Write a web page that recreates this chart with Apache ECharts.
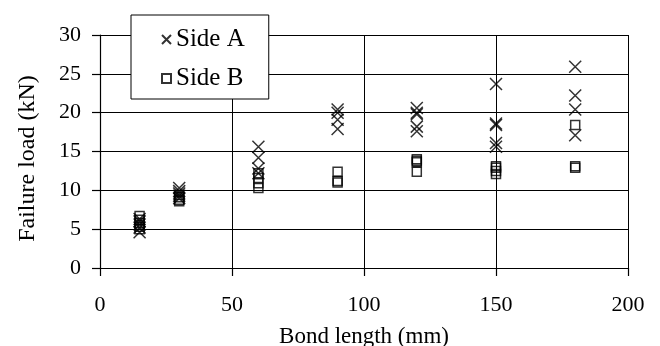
<!DOCTYPE html>
<html>
<head>
<meta charset="utf-8">
<script src="https://cdn.jsdelivr.net/npm/echarts@6/dist/echarts.min.js"></script>
<style>
  html, body { margin: 0; padding: 0; background: #fff; }
  #chart { width: 660px; height: 346px; }
</style>
</head>
<body>
<div id="chart"></div>
<script>
// Bond lengths tested (mm)
const bondLength = [15, 30, 60, 90, 120, 150, 180];

// Failure loads (kN) per bond length, side A specimens
const sideA = [
  [4.6, 5.2, 5.6, 6.0, 6.3],
  [9.0, 9.3, 9.6, 9.9, 10.3],
  [12.2, 12.8, 14.2, 15.6],
  [17.9, 19.1, 20.0, 20.4],
  [17.6, 18.2, 19.8, 20.0, 20.6],
  [15.6, 16.1, 18.4, 18.6, 23.7],
  [17.1, 20.4, 22.2, 25.9]
];

// Failure loads (kN) per bond length, side B specimens
const sideB = [
  [5.0, 5.3, 5.8, 6.2, 6.7],
  [8.6, 8.8, 9.1, 9.4],
  [10.3, 10.9, 11.6, 12.2],
  [11.0, 11.2, 12.4],
  [12.4, 13.6, 13.8, 14.0],
  [12.1, 12.5, 12.9, 13.1],
  [12.9, 13.1, 18.4]
];

const xTicks = { min: 0, max: 200, step: 50 };
const yTicks = { min: 0, max: 30, step: 5 };

function toPoints(groups) {
  const pts = [];
  groups.forEach((vals, i) => vals.forEach(v => pts.push([bondLength[i], v])));
  return pts;
}

const FONT = '"Liberation Serif", "Times New Roman", serif';
const crossPath = 'path://M0,0L10,10M10,0L0,10';

const chart = echarts.init(document.getElementById('chart'), null, { renderer: 'canvas' });
chart.setOption({
  animation: false,
  backgroundColor: '#ffffff',
  textStyle: { fontFamily: FONT, color: '#000' },
  grid: {
    left: 100, right: 32, top: 35, bottom: 78,
    containLabel: false,
    outerBoundsMode: 'none'
  },
  xAxis: {
    type: 'value',
    min: xTicks.min, max: xTicks.max, interval: xTicks.step,
    name: 'Bond length (mm)',
    nameLocation: 'middle',
    nameGap: 57,
    nameTextStyle: { fontFamily: FONT, fontSize: 23, color: '#000' },
    axisLine: { show: true, lineStyle: { color: '#000', width: 1.2 } },
    axisTick: { show: true, inside: false, length: 8, lineStyle: { color: '#000', width: 1.2 } },
    axisLabel: { fontFamily: FONT, fontSize: 22, color: '#000', margin: 26 },
    splitLine: { show: true, lineStyle: { color: '#000', width: 1 } }
  },
  yAxis: {
    type: 'value',
    min: yTicks.min, max: yTicks.max, interval: yTicks.step,
    name: 'Failure load (kN)',
    nameLocation: 'middle',
    nameRotate: 90,
    nameGap: 60,
    nameTextStyle: { fontFamily: FONT, fontSize: 24, color: '#000', padding: [0, 14, 0, 0] },
    axisLine: { show: true, lineStyle: { color: '#000', width: 1.2 } },
    axisTick: { show: true, inside: false, length: 8, lineStyle: { color: '#000', width: 1.2 } },
    axisLabel: { fontFamily: FONT, fontSize: 22, color: '#000', margin: 19 },
    splitLine: { show: true, lineStyle: { color: '#000', width: 1 } }
  },
  legend: {
    orient: 'vertical',
    left: 131,
    top: 15,
    padding: [12, 24, 8, 30],
    itemGap: 14,
    itemWidth: 9,
    itemHeight: 9,
    backgroundColor: '#ffffff',
    borderColor: '#000',
    borderWidth: 1,
    textStyle: { fontFamily: FONT, fontSize: 25, color: '#000' },
    data: [
      { name: 'Side A', icon: crossPath },
      { name: 'Side B', icon: 'rect' }
    ]
  },
  series: [
    {
      name: 'Side A',
      type: 'scatter',
      symbol: crossPath,
      symbolSize: 12,
      itemStyle: { color: 'transparent', borderColor: '#000', borderWidth: 1.5 },
      data: toPoints(sideA),
      z: 3
    },
    {
      name: 'Side B',
      type: 'scatter',
      symbol: 'rect',
      symbolSize: 9,
      itemStyle: { color: 'transparent', borderColor: '#000', borderWidth: 1.5 },
      data: toPoints(sideB),
      z: 2
    }
  ]
});
</script>
</body>
</html>
